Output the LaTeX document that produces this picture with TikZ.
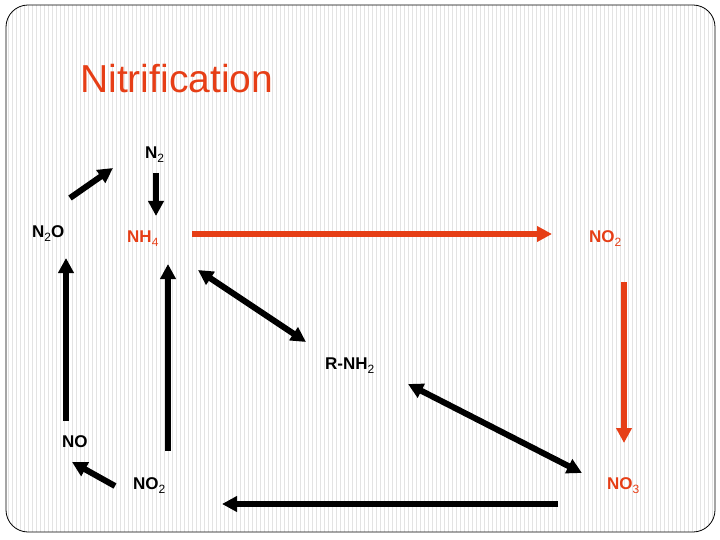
\documentclass[tikz,border=0pt]{standalone}
\usepackage{fontspec}
\setmainfont{Liberation Sans}
\usetikzlibrary{arrows.meta}
\definecolor{nitro}{RGB}{230,62,22}
\newcommand\lowidx[1]{\raisebox{-4pt}{\fontsize{12}{12}\selectfont\mdseries #1}}
\begin{document}
\begin{tikzpicture}[x=1pt,y=-1pt,
  lbl/.style={inner sep=0pt, anchor=base west, font=\fontsize{17}{20}\selectfont\bfseries},
  hot/.style={lbl, text=nitro},
  blk/.style={line width=6pt, -{Triangle[length=15pt,width=15pt]}},
  blkd/.style={line width=6pt, {Triangle[length=15pt,width=15pt]}-{Triangle[length=15pt,width=15pt]}},
  redarr/.style={line width=6pt, draw=nitro, -{Triangle[length=15pt,width=15pt]}}]
\useasboundingbox (0,0) rectangle (720,540);
\begin{scope}
\clip[rounded corners=22pt] (6,5) rectangle (715,532);
\foreach \x in {8,12,...,716} \draw[black!11, line width=0.9pt] (\x,5) -- (\x,532);
\end{scope}
\draw[rounded corners=22pt, line width=0.8pt] (6,5) rectangle (715,532);

\node[anchor=base west, inner sep=0pt, text=nitro, font=\fontsize{39}{43}\selectfont] (title) at (80,93) {Nitrification};

\node[lbl] (n2) at (145,159) {N\lowidx{2}};
\node[lbl] (n2o) at (32,237) {N\lowidx{2}O};
\node[hot] (nh4) at (127,243) {NH\lowidx{4}};
\node[hot] (no2a) at (589,243) {NO\lowidx{2}};
\node[lbl] (rnh2) at (325,369) {R-NH\lowidx{2}};
\node[lbl] (no) at (62,447) {NO};
\node[lbl] (no2b) at (133,489) {NO\lowidx{2}};
\node[hot] (no3) at (607,489) {NO\lowidx{3}};

\coordinate (a1s) at (70,198);  \coordinate (a1e) at (113,168);
\coordinate (a2s) at (156,173); \coordinate (a2e) at (156,216);
\coordinate (r1s) at (192,234); \coordinate (r1e) at (552,234);
\coordinate (r2s) at (624,282); \coordinate (r2e) at (624,443);
\coordinate (d1s) at (198,270); \coordinate (d1e) at (306,342);
\coordinate (d2s) at (408,384); \coordinate (d2e) at (582,473);
\coordinate (b1s) at (558,504); \coordinate (b1e) at (222,504);
\coordinate (b2s) at (168,451); \coordinate (b2e) at (168,264);
\coordinate (b3s) at (66,421);  \coordinate (b3e) at (66,258);
\coordinate (b4s) at (115,486); \coordinate (b4e) at (72,462);

\draw[blk] (a1s) -- (a1e);
\draw[blk] (a2s) -- (a2e);
\draw[redarr] (r1s) -- (r1e);
\draw[redarr] (r2s) -- (r2e);
\draw[blkd] (d1s) -- (d1e);
\draw[blkd] (d2s) -- (d2e);
\draw[blk] (b1s) -- (b1e);
\draw[blk] (b2s) -- (b2e);
\draw[blk] (b3s) -- (b3e);
\draw[blk] (b4s) -- (b4e);
\end{tikzpicture}
\end{document}
